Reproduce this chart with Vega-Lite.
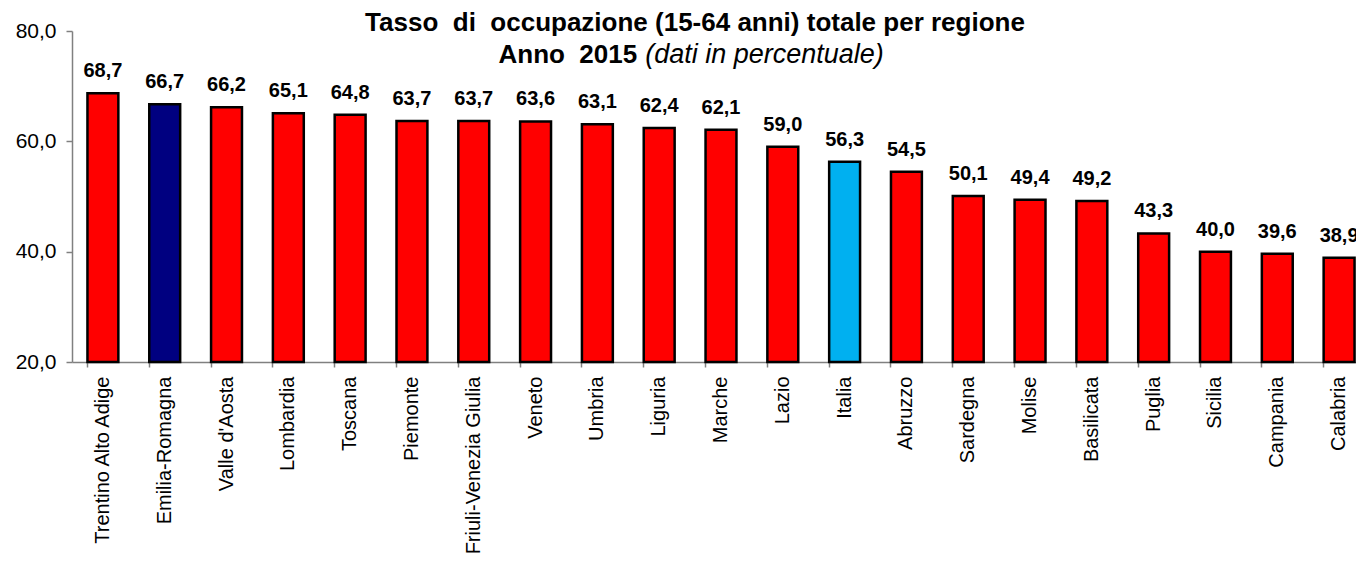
{
  "$schema": "https://vega.github.io/schema/vega-lite/v6.json",
  "autosize": {"type": "none"},
  "padding": {"left": 72, "top": 31, "right": 0, "bottom": 200},
  "width": 1298,
  "height": 331,
  "background": "white",
  "config": {
    "view": {"stroke": null},
    "font": "Liberation Sans",
    "locale": {"number": {"decimal": ",", "thousands": ".", "grouping": [3], "currency": ["€", ""]}}
  },
  "title": {
    "text": "Tasso \u00a0di \u00a0occupazione (15-64 anni) totale per regione",
    "font": "Liberation Sans",
    "fontSize": 26,
    "fontWeight": "bold",
    "color": "black",
    "anchor": "middle",
    "dx": -26,
    "baseline": "alphabetic",
    "offset": -37
  },
  "layer": [
    {
      "data": {
        "values": [
          {"regione": "Trentino Alto Adige", "tasso": 68.7},
          {"regione": "Emilia-Romagna", "tasso": 66.7},
          {"regione": "Valle d'Aosta", "tasso": 66.2},
          {"regione": "Lombardia", "tasso": 65.1},
          {"regione": "Toscana", "tasso": 64.8},
          {"regione": "Piemonte", "tasso": 63.7},
          {"regione": "Friuli-Venezia Giulia", "tasso": 63.7},
          {"regione": "Veneto", "tasso": 63.6},
          {"regione": "Umbria", "tasso": 63.1},
          {"regione": "Liguria", "tasso": 62.4},
          {"regione": "Marche", "tasso": 62.1},
          {"regione": "Lazio", "tasso": 59.0},
          {"regione": "Italia", "tasso": 56.3},
          {"regione": "Abruzzo", "tasso": 54.5},
          {"regione": "Sardegna", "tasso": 50.1},
          {"regione": "Molise", "tasso": 49.4},
          {"regione": "Basilicata", "tasso": 49.2},
          {"regione": "Puglia", "tasso": 43.3},
          {"regione": "Sicilia", "tasso": 40.0},
          {"regione": "Campania", "tasso": 39.6},
          {"regione": "Calabria", "tasso": 38.9}
        ]
      },
      "encoding": {
        "x": {
          "field": "regione",
          "type": "nominal",
          "sort": null,
          "scale": {"paddingInner": 0.5, "paddingOuter": 0.25},
          "axis": {
            "title": null,
            "labelAngle": -90,
            "labelAlign": "right",
            "labelBaseline": "middle",
            "labelFontSize": 20,
            "labelColor": "black",
            "labelPadding": 9,
            "labelLimit": 300,
            "labelOverlap": false,
            "bandPosition": 0,
            "tickSize": 5,
            "tickColor": "#808080",
            "domainColor": "#808080",
            "domainWidth": 1.5,
            "tickWidth": 1.5
          }
        },
        "y": {
          "field": "tasso",
          "type": "quantitative",
          "scale": {"domain": [20, 80], "zero": false, "nice": false},
          "axis": {
            "title": null,
            "values": [20, 40, 60, 80],
            "format": ".1f",
            "grid": false,
            "labelFontSize": 21,
            "labelColor": "black",
            "labelPadding": 10,
            "tickSize": 6,
            "tickColor": "#808080",
            "domainColor": "#808080",
            "domainWidth": 1.5,
            "tickWidth": 1.5
          }
        }
      },
      "layer": [
        {
          "mark": {"type": "bar", "stroke": "black", "strokeWidth": 2.5},
          "encoding": {
            "y2": {"datum": 20},
            "color": {
              "condition": [
                {"test": "datum.regione === 'Emilia-Romagna'", "value": "#000080"},
                {"test": "datum.regione === 'Italia'", "value": "#00B0F0"}
              ],
              "value": "#FF0000"
            }
          }
        },
        {
          "mark": {"type": "text", "fontSize": 20, "fontWeight": "bold", "color": "black", "baseline": "alphabetic", "dy": -16},
          "encoding": {
            "text": {"field": "tasso", "type": "quantitative", "format": ".1f"}
          }
        }
      ]
    },
    {
      "data": {"values": [{"testo": "Anno \u00a02015"}]},
      "mark": {"type": "text", "fontSize": 26, "fontWeight": "bold", "color": "black", "align": "right", "baseline": "alphabetic", "dx": -22},
      "encoding": {
        "x": {"datum": "Liguria", "type": "nominal"},
        "y": {"datum": 74.2, "type": "quantitative"},
        "text": {"field": "testo", "type": "nominal"}
      }
    },
    {
      "data": {"values": [{"testo": "(dati in percentuale)"}]},
      "mark": {"type": "text", "fontSize": 27, "fontStyle": "italic", "color": "black", "align": "left", "baseline": "alphabetic", "dx": -14},
      "encoding": {
        "x": {"datum": "Liguria", "type": "nominal"},
        "y": {"datum": 74.2, "type": "quantitative"},
        "text": {"field": "testo", "type": "nominal"}
      }
    }
  ]
}
